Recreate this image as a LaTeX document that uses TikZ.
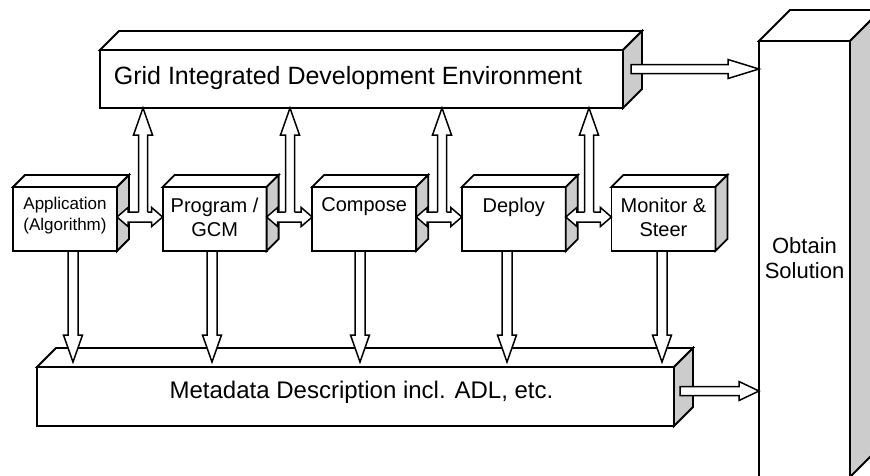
\documentclass[tikz,border=0pt]{standalone}
\usepackage{fontspec}
\setmainfont{Liberation Sans}
\usetikzlibrary{calc}
\definecolor{sidegray}{RGB}{204,204,204}
\tikzset{
  face/.style={draw, fill=white, line width=1.8pt, inner sep=0pt, outer sep=0pt},
  boxline/.style={line width=1.8pt, line join=miter},
  arr/.style={line width=1.5pt, line join=miter, fill=white},
  lbl/.style={inner sep=0pt, align=center},
}
\newcommand\myCuboid[2]{%
  \filldraw[boxline, fill=white] (#1.north west) -- ++(#2,-#2) -- ($(#1.north east)+(#2,-#2)$) -- (#1.north east) -- cycle;
  \filldraw[boxline, fill=sidegray] (#1.north east) -- ++(#2,-#2) -- ($(#1.south east)+(#2,-#2)$) -- (#1.south east) -- cycle;
}
\newcommand\myDownArr[2]{%
  \filldraw[arr] ($(#1)+(-5,0)$) -- ($(#2)+(-5,-27)$) -- ($(#2)+(-9.5,-27)$) -- (#2) -- ($(#2)+(9.5,-27)$) -- ($(#2)+(5,-27)$) -- ($(#1)+(5,0)$) -- cycle;}
\newcommand\myUpArr[2]{%
  \fill[white] ($(#1)+(-4.5,0)$) -- ($(#2)+(-4.5,27)$) -- ($(#2)+(-9.5,27)$) -- (#2) -- ($(#2)+(9.5,27)$) -- ($(#2)+(4.5,27)$) -- ($(#1)+(4.5,0)$) -- cycle;
  \draw[line width=1.5pt, line join=miter] ($(#1)+(-4.5,-5)$) -- ($(#2)+(-4.5,27)$) -- ($(#2)+(-9.5,27)$) -- (#2) -- ($(#2)+(9.5,27)$) -- ($(#2)+(4.5,27)$) -- ($(#1)+(4.5,-5)$);}
\newcommand\myRightArr[3]{%
  \filldraw[arr] ($(#1)+(0,-4.5)$) -- ($(#2)+(-#3,-4.5)$) -- ($(#2)+(-#3,-9.5)$) -- (#2) -- ($(#2)+(-#3,9.5)$) -- ($(#2)+(-#3,4.5)$) -- ($(#1)+(0,4.5)$) -- cycle;}
\newcommand\myDblArr[2]{%
  \filldraw[arr] (#1) -- ($(#1)+(11,-9.5)$) -- ($(#1)+(11,-5)$) -- ($(#2)+(-11,-5)$) -- ($(#2)+(-11,-9.5)$) -- (#2) -- ($(#2)+(-11,9.5)$) -- ($(#2)+(-11,5)$) -- ($(#1)+(11,5)$) -- ($(#1)+(11,9.5)$) -- cycle;}
\begin{document}
\begin{tikzpicture}[x=1pt,y=-1pt]
\useasboundingbox (0,0) rectangle (870,475);
\clip (0,0) rectangle (870,475);

% big boxes
\node[face, minimum width=523pt, minimum height=58pt] (ide) at (361.5,79) {};
\myCuboid{ide}{19}
\node[face, minimum width=637pt, minimum height=59pt] (meta) at (355.5,396.5) {};
\myCuboid{meta}{19}
\node[face, minimum width=91pt, minimum height=436pt] (obtain) at (804.5,259) {};
\myCuboid{obtain}{31}

% small boxes
\node[face, minimum width=104pt, minimum height=64pt] (app) at (65,219) {};
\myCuboid{app}{12}
\node[face, minimum width=104pt, minimum height=64pt] (prog) at (214.6,219) {};
\myCuboid{prog}{12}
\node[face, minimum width=104pt, minimum height=64pt] (comp) at (364.2,219) {};
\myCuboid{comp}{12}
\node[face, minimum width=104pt, minimum height=64pt] (dep) at (513.8,219) {};
\myCuboid{dep}{12}
\node[face, minimum width=104pt, minimum height=64pt] (mon) at (663.4,219) {};
\myCuboid{mon}{12}

% texts
\node[lbl, anchor=base, font=\fontsize{25}{30}\selectfont] (idetext) at ($(ide.center)+(-13.5,5)$) {Grid Integrated Development Environment};
\node[lbl, anchor=base, font=\fontsize{24}{29}\selectfont] (metatext) at ($(meta.center)+(6,1.5)$) {Metadata Description incl. ADL, etc.};
\node[lbl, anchor=north, font=\fontsize{22}{25}\selectfont] (obtaintext) at ($(obtain.center)+(0,-21.5)$) {Obtain\\Solution};
\node[lbl, anchor=north, font=\fontsize{17}{21}\selectfont] (apptext) at ($(app.north)+(0,10)$) {Application\\(Algorithm)};
\node[lbl, anchor=north, font=\fontsize{20}{24}\selectfont] (progtext) at ($(prog.north)+(0,10.5)$) {Program /\\GCM};
\node[lbl, anchor=north, font=\fontsize{20}{24}\selectfont] (comptext) at ($(comp.north)+(0,10.5)$) {Compose};
\node[lbl, anchor=north, font=\fontsize{20}{24}\selectfont] (deptext) at ($(dep.north)+(0,10.5)$) {Deploy};
\node[lbl, anchor=north, font=\fontsize{20}{24}\selectfont] (montext) at ($(mon.north)+(0,10.5)$) {Monitor \&\\Steer};

% double arrows between small boxes
\coordinate (h1s) at ($(app.east)+(0,-2)$);  \coordinate (h1t) at (h1s -| prog.west);
\coordinate (h2s) at ($(prog.east)+(0,-2)$); \coordinate (h2t) at (h2s -| comp.west);
\coordinate (h3s) at ($(comp.east)+(0,-2)$); \coordinate (h3t) at (h3s -| dep.west);
\coordinate (h4s) at ($(dep.east)+(0,-2)$);  \coordinate (h4t) at (h4s -| mon.west);
\myDblArr{h1s}{h1t}
\myDblArr{h2s}{h2t}
\myDblArr{h3s}{h3t}
\myDblArr{h4s}{h4t}

% up arrows to IDE
\coordinate (u1s) at ($(app.east)+(26,-2)$);    \coordinate (u1t) at (u1s |- ide.south);
\coordinate (u2s) at ($(prog.east)+(23.4,-2)$); \coordinate (u2t) at (u2s |- ide.south);
\coordinate (u3s) at ($(comp.east)+(25.8,-2)$); \coordinate (u3t) at (u3s |- ide.south);
\coordinate (u4s) at ($(dep.east)+(23.2,-2)$);  \coordinate (u4t) at (u4s |- ide.south);
\myUpArr{u1s}{u1t}
\myUpArr{u2s}{u2t}
\myUpArr{u3s}{u3t}
\myUpArr{u4s}{u4t}

% down arrows to metadata
\coordinate (mtip) at ($(meta.north)+(0,-5)$);
\coordinate (d1s) at ($(app.south)+(8,0)$);     \coordinate (d1t) at (d1s |- mtip);
\coordinate (d2s) at ($(prog.south)+(-2.6,0)$); \coordinate (d2t) at (d2s |- mtip);
\coordinate (d3s) at ($(comp.south)+(-4.2,0)$); \coordinate (d3t) at (d3s |- mtip);
\coordinate (d4s) at ($(dep.south)+(-6.8,0)$);  \coordinate (d4t) at (d4s |- mtip);
\coordinate (d5s) at ($(mon.south)+(-1.4,0)$);  \coordinate (d5t) at (d5s |- mtip);
\myDownArr{d1s}{d1t}
\myDownArr{d2s}{d2t}
\myDownArr{d3s}{d3t}
\myDownArr{d4s}{d4t}
\myDownArr{d5s}{d5t}

% arrows to Obtain Solution
\coordinate (r1s) at ($(ide.east)+(8,-10)$);   \coordinate (r1t) at (r1s -| obtain.west);
\coordinate (r2s) at ($(meta.east)+(6,-5.5)$); \coordinate (r2t) at (r2s -| obtain.west);
\myRightArr{r1s}{r1t}{31}
\myRightArr{r2s}{r2t}{20}
\end{tikzpicture}
\end{document}
